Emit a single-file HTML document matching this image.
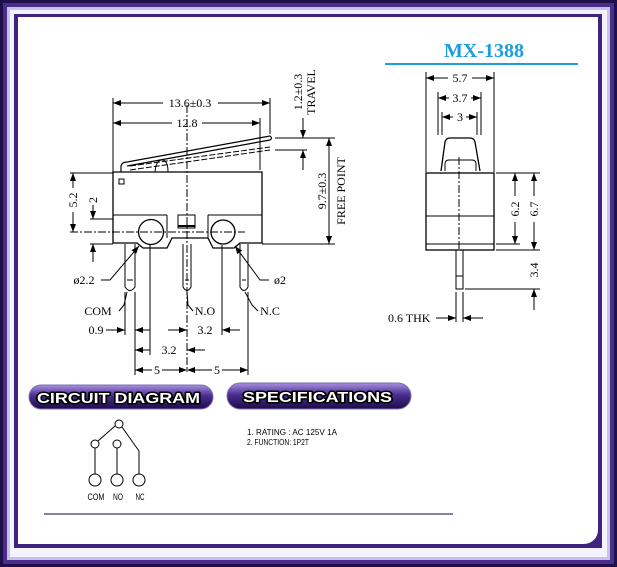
<!DOCTYPE html>
<html><head><meta charset="utf-8"><style>
html,body{margin:0;padding:0;}
body{width:617px;height:567px;overflow:hidden;background:#1a0a40;position:relative;font-family:"Liberation Sans",sans-serif;}
.f1{position:absolute;left:0;top:0;width:617px;height:567px;background:#20104a;}
.f2{position:absolute;left:3px;top:3px;right:3px;bottom:3px;background:#4b2d8c;}
.f3{position:absolute;left:7px;top:7px;right:7px;bottom:7px;background:#c9c0ea;}
.f4{position:absolute;left:10px;top:10px;right:10px;bottom:10px;background:#f4f2fb;}
.f5{position:absolute;left:14px;top:14px;right:15px;bottom:19px;background:#3e2380;}
.in{position:absolute;left:18px;top:17px;width:580px;height:527px;background:#fff;border-bottom-right-radius:14px;}
svg{position:absolute;left:0;top:0;}
</style></head><body>
<div class="f1"></div><div class="f2"></div><div class="f3"></div><div class="f4"></div><div class="f5"></div><div class="in"></div>
<svg width="617" height="567" viewBox="0 0 617 567" font-family="Liberation Serif, serif">
<defs>
<marker id="a" markerWidth="8" markerHeight="6" refX="8" refY="3" orient="auto-start-reverse" markerUnits="userSpaceOnUse"><path d="M0,0 L8,3 L0,6z" fill="#000"/></marker>
<linearGradient id="pg" x1="0" y1="0" x2="0" y2="1"><stop offset="0" stop-color="#a890e0"/><stop offset="0.45" stop-color="#4a2d90"/><stop offset="1" stop-color="#1c0c48"/></linearGradient>
</defs>
<text x="484" y="57" font-size="20" font-weight="bold" fill="#1a9ee0" text-anchor="middle">MX-1388</text>
<line x1="385" y1="64" x2="578" y2="64" stroke="#1a9ee0" stroke-width="2"/>
<g stroke="#000" stroke-width="1" fill="none">
<path d="M113,172 H262 V243 H240 L234,248 H213 L208,238 H172 L167,248 H143 L137,243 H113 Z" stroke-width="1.3"/>
<line x1="113" y1="215" x2="167" y2="215"/><line x1="208" y1="215" x2="262" y2="215"/>
<line x1="167" y1="215" x2="167" y2="238"/><line x1="208" y1="215" x2="208" y2="238"/>
<circle cx="151" cy="232" r="12.5" stroke-width="1.3"/><circle cx="223" cy="232" r="12" stroke-width="1.3"/>
<rect x="178" y="215" width="17" height="13"/><line x1="178" y1="226" x2="195" y2="226" stroke-width="2"/>
<rect x="119" y="179" width="5" height="5"/>
<path d="M121,172 L121,166 Q122,162 127,162 L270,136 Q273,138 270,140 L127,166" stroke-width="1.2"/>
<path d="M130,166 L270,147 M130,170 L270,150" stroke-dasharray="6,2"/>
<path d="M155,172 Q156,160 162,160 Q168,160 168,172"/>
<line x1="187" y1="105" x2="187" y2="372" stroke-dasharray="8,2,2,2"/>
<line x1="70" y1="232" x2="245" y2="232" stroke-dasharray="8,2,2,2"/>
<path d="M125,244 V287 Q130,294 135,287 V244"/><line x1="127" y1="280" x2="133" y2="280"/>
<path d="M183,244 V287 Q187,294 191,287 V244"/><line x1="185" y1="280" x2="189" y2="280"/>
<path d="M240,244 V287 Q244,294 248,287 V244"/><line x1="242" y1="280" x2="246" y2="280"/>
<line x1="113" y1="98" x2="113" y2="172"/><line x1="270" y1="98" x2="270" y2="134"/><line x1="260" y1="118" x2="260" y2="170"/>
<line x1="113" y1="103" x2="163" y2="103" marker-start="url(#a)"/><line x1="218" y1="103" x2="270" y2="103" marker-end="url(#a)"/>
<line x1="113" y1="123" x2="172" y2="123" marker-start="url(#a)"/><line x1="202" y1="123" x2="260" y2="123" marker-end="url(#a)"/>
<line x1="275" y1="138" x2="335" y2="138"/><line x1="275" y1="150" x2="307" y2="150"/><line x1="262" y1="244" x2="335" y2="244"/>
<line x1="303" y1="118" x2="303" y2="138" marker-end="url(#a)"/><line x1="303" y1="170" x2="303" y2="150" marker-end="url(#a)"/>
<line x1="329" y1="138" x2="329" y2="244" marker-start="url(#a)" marker-end="url(#a)"/>
<line x1="70" y1="173" x2="113" y2="173"/><line x1="90" y1="219" x2="113" y2="219"/><line x1="90" y1="244" x2="113" y2="244"/>
<line x1="73" y1="173" x2="73" y2="188" marker-start="url(#a)"/><line x1="73" y1="212" x2="73" y2="232" marker-end="url(#a)"/>
<line x1="93" y1="205" x2="93" y2="219" marker-end="url(#a)"/><line x1="93" y1="262" x2="93" y2="244" marker-end="url(#a)"/>
<polyline points="101,280 110,280 139,246" marker-end="url(#a)"/>
<polyline points="269,280 260,280 235,246" marker-end="url(#a)"/>
<polyline points="119,311 124,305 127,292"/><polyline points="193,311 188,305 187,292"/><polyline points="258,311 252,305 245,292"/>
<line x1="125" y1="292" x2="125" y2="335"/><line x1="135" y1="292" x2="135" y2="375"/>
<line x1="150" y1="245" x2="150" y2="355"/><line x1="222" y1="245" x2="222" y2="335"/><line x1="248" y1="292" x2="248" y2="375"/>
<line x1="106" y1="330" x2="125" y2="330" marker-end="url(#a)"/><line x1="150" y1="330" x2="135" y2="330" marker-end="url(#a)"/>
<line x1="168" y1="330" x2="187" y2="330" marker-end="url(#a)"/><line x1="240" y1="330" x2="222" y2="330" marker-end="url(#a)"/>
<line x1="135" y1="350" x2="150" y2="350" marker-start="url(#a)"/><line x1="187" y1="350" x2="205" y2="350" marker-start="url(#a)"/>
<line x1="135" y1="370" x2="152" y2="370" marker-start="url(#a)"/><line x1="162" y1="370" x2="187" y2="370" marker-end="url(#a)"/>
<line x1="187" y1="370" x2="212" y2="370" marker-start="url(#a)"/><line x1="222" y1="370" x2="248" y2="370" marker-end="url(#a)"/>
<rect x="426" y="173" width="68" height="77" stroke-width="1.3"/>
<line x1="426" y1="216" x2="494" y2="216"/><line x1="426" y1="244" x2="494" y2="244"/>
<path d="M441,171 L445,142 Q446,138 450,138 L470,138 Q474,138 475,142 L480,171" stroke-width="1.3"/>
<path d="M445,171 V164 Q445,160 449,160 H472 Q476,160 476,164 V171"/>
<line x1="459" y1="157" x2="459" y2="250" stroke-dasharray="8,2,2,2"/>
<path d="M456,250 V289 H463 V250"/><line x1="456" y1="276" x2="463" y2="276"/>
<line x1="426" y1="72" x2="426" y2="172"/><line x1="494" y1="72" x2="494" y2="172"/>
<line x1="438" y1="92" x2="438" y2="135"/><line x1="481" y1="92" x2="481" y2="135"/>
<line x1="442" y1="112" x2="442" y2="135"/><line x1="477" y1="112" x2="477" y2="135"/>
<line x1="426" y1="78" x2="448" y2="78" marker-start="url(#a)"/><line x1="472" y1="78" x2="494" y2="78" marker-end="url(#a)"/>
<line x1="438" y1="98" x2="449" y2="98" marker-start="url(#a)"/><line x1="471" y1="98" x2="481" y2="98" marker-end="url(#a)"/>
<line x1="442" y1="117" x2="453" y2="117" marker-start="url(#a)"/><line x1="466" y1="117" x2="477" y2="117" marker-end="url(#a)"/>
<line x1="496" y1="173" x2="540" y2="173"/><line x1="496" y1="244" x2="520" y2="244"/><line x1="496" y1="250" x2="540" y2="250"/><line x1="465" y1="289" x2="540" y2="289"/>
<line x1="515" y1="173" x2="515" y2="196" marker-start="url(#a)"/><line x1="515" y1="222" x2="515" y2="244" marker-end="url(#a)"/>
<line x1="534" y1="173" x2="534" y2="196" marker-start="url(#a)"/><line x1="534" y1="222" x2="534" y2="250" marker-end="url(#a)"/>
<line x1="534" y1="310" x2="534" y2="289" marker-end="url(#a)"/>
<line x1="456" y1="292" x2="456" y2="322"/><line x1="463" y1="292" x2="463" y2="322"/>
<line x1="436" y1="318" x2="456" y2="318" marker-end="url(#a)"/><line x1="483" y1="318" x2="463" y2="318" marker-end="url(#a)"/>
</g>
<g font-size="12" fill="#000">
<text x="190" y="107" text-anchor="middle">13.6±0.3</text>
<text x="187" y="127" text-anchor="middle">12.8</text>
<text transform="translate(302,92) rotate(-90)" text-anchor="middle">1.2±0.3</text>
<text transform="translate(315,92) rotate(-90)" text-anchor="middle">TRAVEL</text>
<text transform="translate(326,191) rotate(-90)" text-anchor="middle">9.7±0.3</text>
<text transform="translate(345,191) rotate(-90)" text-anchor="middle">FREE POINT</text>
<text transform="translate(77,200) rotate(-90)" text-anchor="middle">5.2</text>
<text transform="translate(97,200) rotate(-90)" text-anchor="middle">2</text>
<text x="84" y="284" text-anchor="middle">ø2.2</text>
<text x="280" y="284" text-anchor="middle">ø2</text>
<text x="98" y="315" text-anchor="middle">COM</text>
<text x="205" y="315" text-anchor="middle">N.O</text>
<text x="270" y="315" text-anchor="middle">N.C</text>
<text x="96" y="334" text-anchor="middle">0.9</text>
<text x="205" y="334" text-anchor="middle">3.2</text>
<text x="169" y="354" text-anchor="middle">3.2</text>
<text x="157" y="374" text-anchor="middle">5</text>
<text x="217" y="374" text-anchor="middle">5</text>
<text x="460" y="82" text-anchor="middle">5.7</text>
<text x="460" y="102" text-anchor="middle">3.7</text>
<text x="460" y="121" text-anchor="middle">3</text>
<text transform="translate(519,209) rotate(-90)" text-anchor="middle">6.2</text>
<text transform="translate(538,209) rotate(-90)" text-anchor="middle">6.7</text>
<text transform="translate(538,270) rotate(-90)" text-anchor="middle">3.4</text>
<text x="388" y="322">0.6  THK</text>
</g>
<rect x="29" y="385" width="184" height="24" rx="12" fill="url(#pg)" stroke="#8070b0"/>
<rect x="227" y="383" width="184" height="26" rx="13" fill="url(#pg)" stroke="#8070b0"/>
<g font-family="Liberation Sans, sans-serif" font-weight="bold" fill="#fff" stroke="#000" stroke-width="3" stroke-linejoin="round" paint-order="stroke" font-size="15">
<text x="37" y="403" textLength="163" lengthAdjust="spacingAndGlyphs">CIRCUIT DIAGRAM</text>
<text x="243" y="402" textLength="149" lengthAdjust="spacingAndGlyphs">SPECIFICATIONS</text>
</g>
<g stroke="#000" fill="none" stroke-width="1">
<circle cx="119" cy="424" r="4"/><circle cx="95" cy="444" r="4"/><circle cx="117" cy="444" r="4"/>
<line x1="115" y1="426" x2="98" y2="441"/><polyline points="122,427 139,451 139,474"/>
<line x1="95" y1="448" x2="95" y2="474"/><line x1="117" y1="448" x2="117" y2="474"/>
<circle cx="95" cy="480" r="6"/><circle cx="117" cy="480" r="6"/><circle cx="139" cy="480" r="6"/>
</g>
<g font-family="Liberation Sans, sans-serif" font-size="9" fill="#000" text-anchor="middle">
<text x="96" y="500" textLength="17" lengthAdjust="spacingAndGlyphs">COM</text>
<text x="118" y="500" textLength="10" lengthAdjust="spacingAndGlyphs">NO</text><text x="140" y="500" textLength="9" lengthAdjust="spacingAndGlyphs">NC</text>
</g>
<g font-family="Liberation Sans, sans-serif" font-size="8.5" fill="#000">
<text x="247" y="435" textLength="90" lengthAdjust="spacingAndGlyphs">1. RATING : AC 125V 1A</text>
<text x="247" y="445" textLength="62" lengthAdjust="spacingAndGlyphs">2. FUNCTION: 1P2T</text>
</g>
<line x1="44" y1="514" x2="453" y2="514" stroke="#8a80a0" stroke-width="2"/>
</svg>
</body></html>
